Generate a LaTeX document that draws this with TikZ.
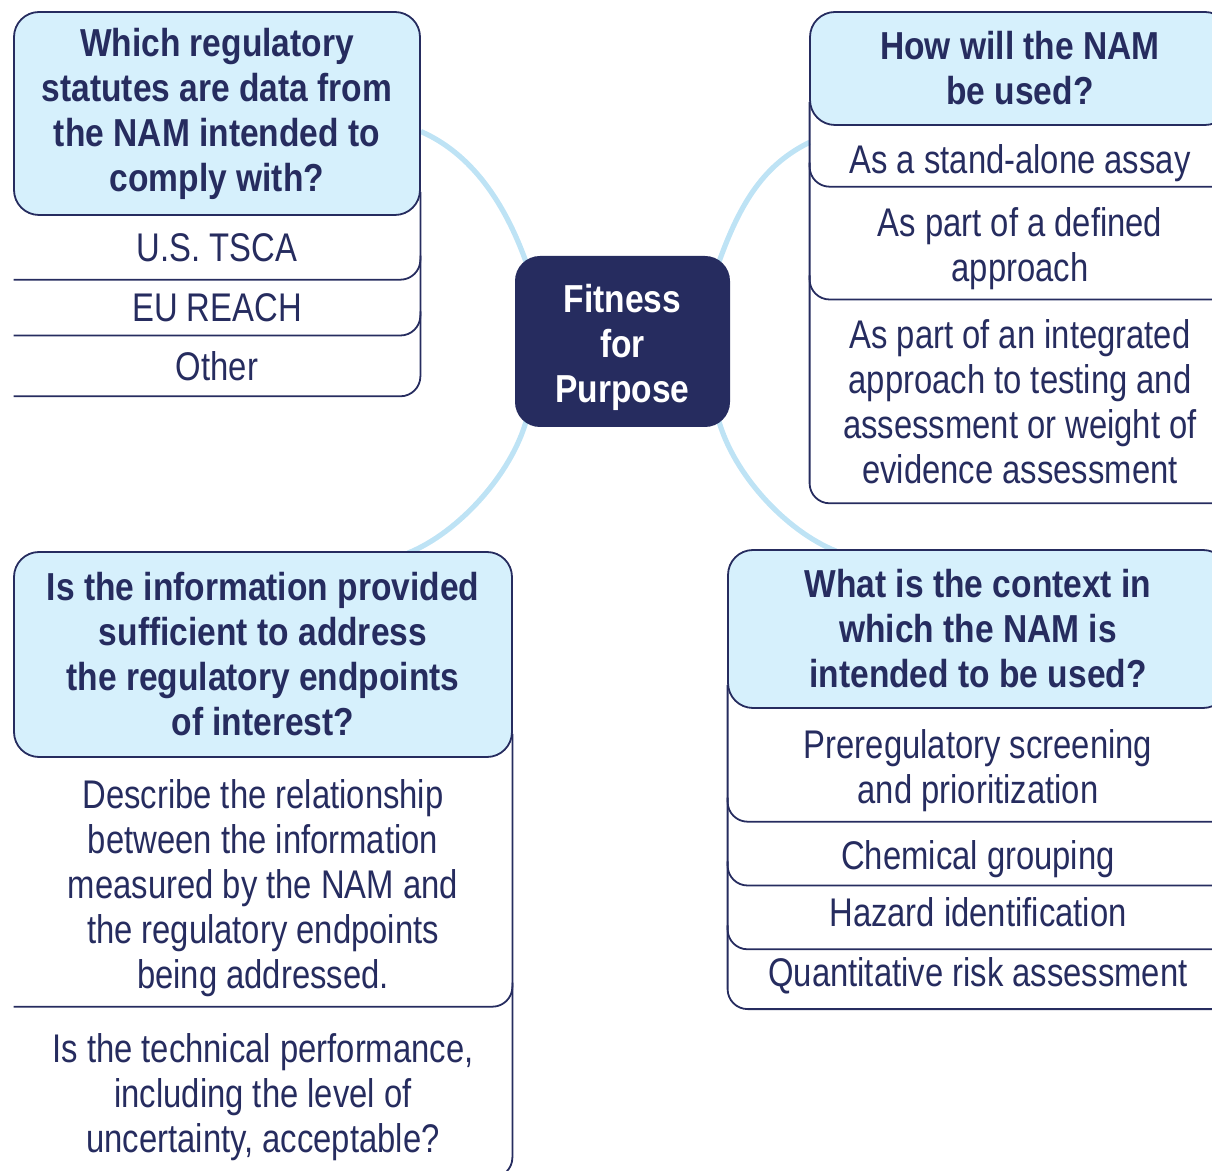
\documentclass[tikz,border=0pt]{standalone}
\usepackage{fontspec}
\setmainfont{Liberation Sans}
\newfontfamily\hdfont[FakeStretch=0.86]{Liberation Sans}
\newfontfamily\itfont[FakeStretch=0.82]{Liberation Sans}
\usepackage{tikz}
\usetikzlibrary{positioning,backgrounds}
\definecolor{navy}{HTML}{262C5F}
\definecolor{hdblue}{HTML}{D6F0FC}
\definecolor{linkblue}{HTML}{BEE3F5}
\newcommand{\pushdown}{\rule{0pt}{20pt}}
\newcommand{\pushup}{\rule[-5pt]{0pt}{0pt}}

\begin{document}
\begin{tikzpicture}[x=0.5pt,y=-0.5pt,
  hdbox/.style={draw=navy,line width=0.9pt,fill=hdblue,rounded corners=12.5pt,inner sep=0pt,
    align=center,text=navy,font=\hdfont\bfseries\fontsize{19.5}{22.5}\selectfont},
  itembox/.style={inner sep=0pt,align=center,text=navy,font=\itfont\fontsize{20}{22.5}\selectfont},
  itemline/.style={draw=navy,line width=0.9pt,rounded corners=10pt},
  hub/.style={fill=navy,rounded corners=12.5pt,inner sep=0pt,align=center,text=white,
    minimum width=107.5pt,minimum height=85.5pt,font=\hdfont\bfseries\fontsize{19.5}{22.5}\selectfont},
  link/.style={draw=linkblue,line width=2.6pt}]
  \useasboundingbox (0,0) rectangle (1212,1171);
  \clip (0,0) rectangle (1212,1171);

  \node[hub] (fit) at (622.5,341.5) {\pushdown Fitness\\for\\Purpose};

  \node[hdbox,minimum width=203pt,minimum height=101.5pt] (hTL) at (217,113.5)
    {Which regulatory\\statutes are data from\\the NAM intended to\\comply with?};
  \node[itembox,minimum width=203pt,minimum height=31.5pt,below=0pt of hTL] (tl1) {U.S. TSCA};
  \node[itembox,minimum width=203pt,minimum height=27.5pt,below=0pt of tl1] (tl2) {EU REACH};
  \node[itembox,minimum width=203pt,minimum height=30pt,below=0pt of tl2] (tl3) {Other};

  \node[hdbox,minimum width=210pt,minimum height=56.5pt] (hTR) at (1020,68.5)
    {How will the NAM\\be used?};
  \node[itembox,minimum width=210pt,minimum height=30pt,below=0pt of hTR] (tr1) {\rule{0pt}{21pt}As a stand-alone assay};
  \node[itembox,minimum width=210pt,minimum height=56pt,below=0pt of tr1] (tr2) {\pushdown As part of a defined\\approach};
  \node[itembox,minimum width=210pt,minimum height=101.5pt,below=0pt of tr2] (tr3)
    {As part of an integrated\\approach to testing and\\assessment or weight of\\evidence assessment};

  \node[hdbox,minimum width=249pt,minimum height=102.5pt] (hBL) at (263,654.5)
    {Is the information provided\\sufficient to address\\the regulatory endpoints\\of interest?};
  \node[itembox,minimum width=249pt,minimum height=124pt,below=0pt of hBL] (bl1)
    {\pushdown Describe the relationship\\between the information\\measured by the NAM and\\the regulatory endpoints\\being addressed.};
  \node[itembox,minimum width=249pt,minimum height=85pt,below=0pt of bl1] (bl2)
    {\pushdown Is the technical performance,\\including the level of\\uncertainty, acceptable?};

  \node[hdbox,minimum width=250pt,minimum height=79pt] (hBR) at (978,629)
    {What is the context in\\which the NAM is\\intended to be used?};
  \node[itembox,minimum width=250pt,minimum height=56pt,below=0pt of hBR] (br1) {\pushdown Preregulatory screening\\and prioritization};
  \node[itembox,minimum width=250pt,minimum height=31.5pt,below=0pt of br1] (br2) {\pushdown Chemical grouping};
  \node[itembox,minimum width=250pt,minimum height=31.5pt,below=0pt of br2] (br3) {Hazard identification\pushup};
  \node[itembox,minimum width=250pt,minimum height=29.5pt,below=0pt of br3] (br4) {Quantitative risk assessment\rule[-7pt]{0pt}{0pt}};

  \foreach \n in {tl1,tl2,tl3,bl1,bl2}
    \draw[itemline] ([yshift=12pt]\n.north east) -- (\n.south east) -- (\n.south west);
  \foreach \n in {tr1,tr2,tr3,br1,br2,br3,br4}
    \draw[itemline] ([yshift=12pt]\n.north west) -- (\n.south west) -- (\n.south east);

  \begin{scope}[on background layer]
    \draw[link] ([yshift=-9pt]hTL.east) .. controls +(50,22) and +(-22,-62) .. ([xshift=6pt,yshift=-4pt]fit.north west);
    \draw[link] ([yshift=7pt]tr1.west) .. controls +(-45,22) and +(22,-62) .. ([xshift=-6pt,yshift=-4pt]fit.north east);
    \draw[link] ([xshift=6pt,yshift=4pt]fit.south west) .. controls +(-15,55) and +(50,-20) .. ([xshift=-52.5pt,yshift=-1pt]hBL.north east);
    \draw[link] ([xshift=-6pt,yshift=4pt]fit.south east) .. controls +(15,55) and +(-50,-20) .. ([xshift=54.5pt,yshift=-1pt]hBR.north west);
  \end{scope}
\end{tikzpicture}
\end{document}
